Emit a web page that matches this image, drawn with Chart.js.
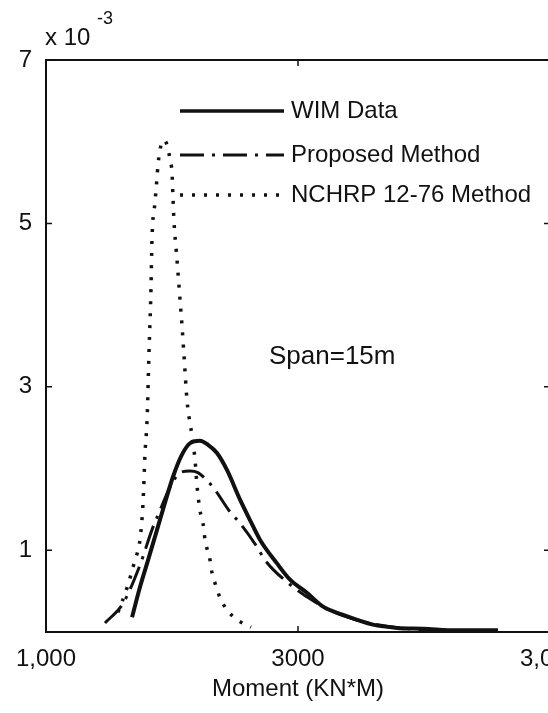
<!DOCTYPE html>
<html><head><meta charset="utf-8">
<script src="https://cdn.jsdelivr.net/npm/chart.js@4/dist/chart.umd.min.js"></script>
<style>
html,body{margin:0;padding:0;background:#fff;overflow:hidden;width:548px;height:713px}
#wrap{width:600px;height:713px}
</style></head>
<body><div id="wrap"><canvas id="c" width="600" height="713"></canvas></div>
<script>
// ---- data (moment in KN*M, density in 1e-3) ----
const xTickValues = [1000, 3000, 5000];
const xTickLabels = ['1,000', '3000', '3,000'];
const yTickValues = [1, 3, 5, 7];
const yTickLabels = ['1', '3', '5', '7'];

const seriesNames = ['WIM Data', 'Proposed Method', 'NCHRP 12-76 Method'];

const wimX = [1683,1746,1810,1881,1944,2008,2079,2143,2222,2286,2357,2437,2540,2619,2698,2833,2937,3071,3199,3357,3595,3786,3992,4262,4587];
const wimY = [0.18,0.55,0.88,1.25,1.58,1.90,2.17,2.31,2.34,2.29,2.19,1.98,1.62,1.37,1.13,0.84,0.64,0.48,0.31,0.21,0.09,0.05,0.04,0.02,0.02];

const propX = [1468,1611,1746,1841,1905,1984,2064,2143,2206,2262,2341,2460,2540,2675,2738,2937,3071,3199,3357,3595,3810,4127,4587];
const propY = [0.11,0.35,0.82,1.25,1.49,1.77,1.95,1.97,1.95,1.88,1.74,1.47,1.33,1.04,0.88,0.58,0.43,0.31,0.20,0.10,0.05,0.02,0.01];

const nchX = [1571,1643,1706,1746,1770,1786,1802,1818,1833,1841,1865,1881,1889,1913,1937,1968,1984,2000,2008,2016,2032,2048,2064,2079,2095,2119,2143,2159,2183,2198,2222,2246,2262,2302,2318,2341,2381,2437,2516,2627];
const nchY = [0.24,0.54,0.88,1.13,1.58,2.19,2.59,3.45,4.19,4.80,5.26,5.56,5.72,5.96,6.02,5.92,5.78,5.62,5.31,5.02,4.70,4.39,4.06,3.76,3.39,2.84,2.55,2.41,2.10,1.80,1.49,1.33,1.13,0.88,0.72,0.60,0.42,0.27,0.15,0.06];

const toPts = (xs, ys) => xs.map((x, i) => ({x, y: ys[i]}));

const INK = '#111';
const FONT = '"Liberation Sans", Arial, sans-serif';
Chart.defaults.font.family = FONT;
Chart.defaults.color = INK;

const frame = {
  id: 'frame',
  afterDraw(chart) {
    const {ctx, chartArea: a, scales: {x, y}} = chart;
    ctx.save();
    ctx.strokeStyle = INK;
    ctx.lineWidth = 2;
    ctx.strokeRect(a.left, a.top, a.right - a.left, a.bottom - a.top);
    const tl = 6;
    ctx.lineWidth = 1.5;
    yTickValues.forEach(v => {
      const py = y.getPixelForValue(v);
      ctx.beginPath();
      ctx.moveTo(a.left, py); ctx.lineTo(a.left + tl, py);
      ctx.moveTo(a.right, py); ctx.lineTo(a.right - tl, py);
      ctx.stroke();
    });
    xTickValues.forEach(v => {
      const px = x.getPixelForValue(v);
      ctx.beginPath();
      ctx.moveTo(px, a.bottom); ctx.lineTo(px, a.bottom - tl);
      ctx.moveTo(px, a.top); ctx.lineTo(px, a.top + tl);
      ctx.stroke();
    });
    // exponent label
    ctx.fillStyle = INK;
    ctx.textBaseline = 'alphabetic';
    ctx.textAlign = 'left';
    ctx.font = '24px ' + FONT;
    ctx.fillText('x 10', 45, 45);
    ctx.font = '18px ' + FONT;
    ctx.fillText('-3', 97, 24);
    // annotation
    ctx.font = '26px ' + FONT;
    ctx.textBaseline = 'middle';
    ctx.fillText('Span=15m', 269, 357);
    // legend
    ctx.font = '24px ' + FONT;
    const rows = [111, 155, 195];
    chart.data.datasets.forEach((ds, i) => {
      ctx.beginPath();
      ctx.setLineDash(ds.borderDash || []);
      ctx.lineWidth = Math.min(ds.borderWidth, 3.5);
      ctx.strokeStyle = ds.borderColor;
      ctx.moveTo(180, rows[i]); ctx.lineTo(284, rows[i]);
      ctx.stroke();
      ctx.setLineDash([]);
      ctx.fillText(ds.label, 291, rows[i]);
    });
    ctx.restore();
  }
};

new Chart(document.getElementById('c'), {
  type: 'line',
  data: {
    datasets: [
      {label: seriesNames[0], data: toPts(wimX, wimY), borderColor: INK, borderWidth: 4, borderDash: []},
      {label: seriesNames[1], data: toPts(propX, propY), borderColor: INK, borderWidth: 3, borderDash: [24, 8, 3, 8]},
      {label: seriesNames[2], data: toPts(nchX, nchY), borderColor: INK, borderWidth: 3.5, borderDash: [3, 9]}
    ]
  },
  options: {
    responsive: false,
    animation: false,
    devicePixelRatio: 1,
    layout: {padding: {top: 60, right: 50, left: 0, bottom: 0}},
    elements: {point: {radius: 0}, line: {cubicInterpolationMode: 'monotone', borderCapStyle: 'butt'}},
    plugins: {legend: {display: false}, tooltip: {enabled: false}},
    scales: {
      x: {
        type: 'linear', min: 1000, max: 5000,
        grid: {display: false, drawTicks: false}, border: {display: false},
        afterBuildTicks: s => { s.ticks = xTickValues.map(v => ({value: v})); },
        ticks: {
          autoSkip: false, maxRotation: 0, padding: 13,
          font: {size: 24}, color: INK,
          callback: v => xTickLabels[xTickValues.indexOf(v)]
        },
        title: {display: true, text: 'Moment (KN*M)', font: {size: 24}, color: INK, padding: {top: 0, bottom: 9}},
        afterFit: s => { s.height = 81; s.paddingLeft = 0; s.paddingRight = 0; }
      },
      y: {
        type: 'linear', min: 0, max: 7,
        grid: {display: false, drawTicks: false}, border: {display: false},
        afterBuildTicks: s => { s.ticks = yTickValues.map(v => ({value: v})); },
        ticks: {
          autoSkip: false, padding: 14, font: {size: 24}, color: INK,
          callback: v => yTickLabels[yTickValues.indexOf(v)]
        },
        afterFit: s => { s.width = 46; s.paddingTop = 0; s.paddingBottom = 0; }
      }
    }
  },
  plugins: [frame]
});
</script>
</body></html>
